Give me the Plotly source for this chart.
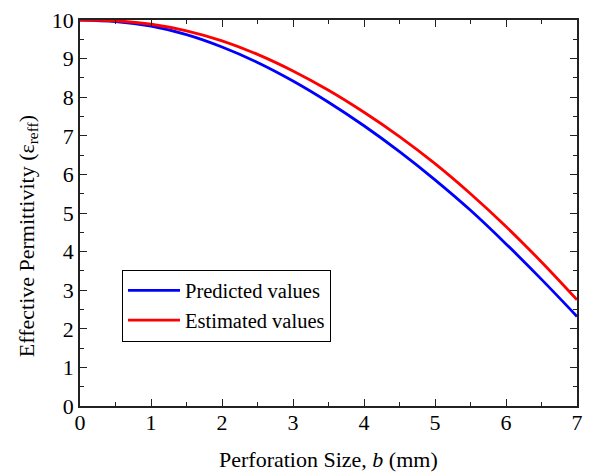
import plotly.graph_objects as go

b_mm = [0, 0.5, 1, 1.5, 2, 2.5, 3, 3.5, 4, 4.5, 5, 5.5, 6, 6.5, 7]
predicted = [10.0, 9.96, 9.84, 9.62, 9.30, 8.90, 8.42, 7.87, 7.26, 6.59, 5.86, 5.07, 4.20, 3.28, 2.32]
estimated = [10.0, 9.98, 9.89, 9.72, 9.46, 9.11, 8.68, 8.18, 7.61, 6.98, 6.28, 5.50, 4.65, 3.73, 2.75]

font_family = "Liberation Serif, Times New Roman, serif"

fig = go.Figure()
fig.add_trace(go.Scatter(x=b_mm, y=predicted, mode="lines", name="Predicted values",
                         line=dict(color="#0000ff", width=2.8, shape="spline", smoothing=1)))
fig.add_trace(go.Scatter(x=b_mm, y=estimated, mode="lines", name="Estimated values",
                         line=dict(color="#ff0000", width=2.8, shape="spline", smoothing=1)))

axis_common = dict(
    showgrid=False, zeroline=False, showline=True, linecolor="#222222", linewidth=1.5,
    mirror="ticks", ticks="inside", ticklen=7, tickwidth=1.2, tickcolor="#222222",
    tickfont=dict(family=font_family, size=22, color="black"),
    minor=dict(ticks="inside", ticklen=4, tickwidth=1, tickcolor="#222222"),
    automargin=False, ticklabeloverflow="allow",
)

fig.update_layout(
    width=584, height=466,
    margin=dict(l=72, r=15, t=12, b=68),
    paper_bgcolor="white", plot_bgcolor="white",
    font=dict(family=font_family, color="black"),
    showlegend=True,
    legend=dict(x=0.0845, y=0.26, xanchor="left", yanchor="middle",
                bordercolor="black", borderwidth=1, bgcolor="white",
                font=dict(family=font_family, size=20.5, color="black"),
                tracegroupgap=0, itemwidth=52),
    xaxis=dict(range=[0, 7], dtick=1, tick0=0, ticklabelstandoff=-4, **axis_common),
    yaxis=dict(range=[0, 10], dtick=1, tick0=0, **axis_common),
    annotations=[
        dict(text="Perforation Size, <i>b</i> (mm)", xref="paper", yref="paper",
             x=0.501, y=-0.139, xanchor="center", yanchor="middle", showarrow=False,
             font=dict(family=font_family, size=22, color="black")),
        dict(text="Effective Permittivity (ε<sub>reff</sub>)", xref="paper", yref="paper",
             x=-0.1046, y=0.44, xanchor="center", yanchor="middle", showarrow=False,
             textangle=-90, font=dict(family=font_family, size=22, color="black")),
    ],
)
fig.update_xaxes(minor_dtick=0.5)
fig.update_yaxes(minor_dtick=0.5)

fig.write_html("out.html")
